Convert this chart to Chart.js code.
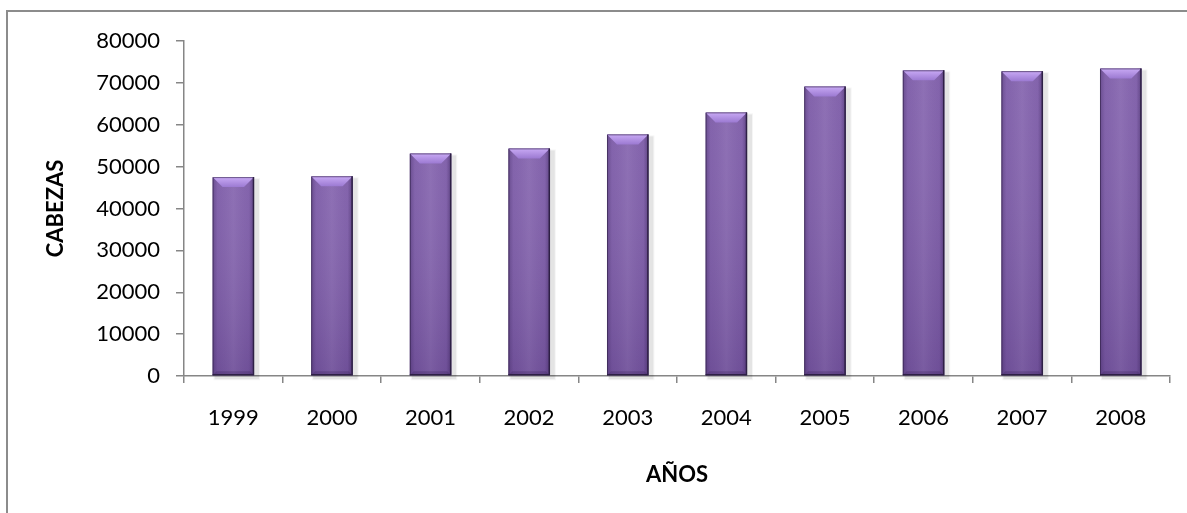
<!DOCTYPE html>
<html>
<head>
<meta charset="utf-8">
<script src="https://cdn.jsdelivr.net/npm/chart.js@4/dist/chart.umd.min.js"></script>
<style>
  html, body { margin: 0; padding: 0; background: #fff; }
  #wrap { width: 1187px; height: 513px; position: relative; }
</style>
</head>
<body>
<div id="wrap"><canvas id="chart"></canvas></div>
<script>
const years = ["1999", "2000", "2001", "2002", "2003", "2004", "2005", "2006", "2007", "2008"];
const heads = [47500, 47700, 53150, 54350, 57700, 62950, 69150, 73000, 72800, 73450];
const yTicks = [0, 10000, 20000, 30000, 40000, 50000, 60000, 70000, 80000];

const FONT = "Lato, 'Open Sans', sans-serif";

// grey frame around the chart (only left and top edges are visible)
const framePlugin = {
  id: "frame",
  beforeDraw(chart) {
    const c = chart.ctx;
    c.save();
    c.strokeStyle = "#8c8c8c";
    c.lineWidth = 2;
    c.strokeRect(7, 11, 1200, 520);
    c.restore();
  }
};

// shadow, side shading and top bevel on each bar
const bevelPlugin = {
  id: "bevel",
  beforeDatasetsDraw(chart) {
    const c = chart.ctx;
    c.save();
    chart.getDatasetMeta(0).data.forEach((bar) => {
      const w = bar.width;
      const left = bar.x - w / 2;
      const h = bar.base - bar.y;
      c.fillStyle = "rgba(0,0,0,0.07)";
      c.fillRect(left + 2, bar.y + 2, w + 3, h + 2);
      c.fillStyle = "rgba(0,0,0,0.04)";
      c.fillRect(left + 1, bar.y + 1, w + 5, h + 4);
    });
    c.restore();
  },
  afterDatasetsDraw(chart) {
    const c = chart.ctx;
    c.save();
    chart.getDatasetMeta(0).data.forEach((bar) => {
      const w = bar.width;
      const left = bar.x - w / 2;
      const right = left + w;
      const top = bar.y;
      const h = bar.base - bar.y;

      // vertical darkening toward the base
      const vg = c.createLinearGradient(0, top, 0, bar.base);
      vg.addColorStop(0, "rgba(255,255,255,0.06)");
      vg.addColorStop(1, "rgba(40,20,70,0.16)");
      c.fillStyle = vg;
      c.fillRect(left, top, w, h);

      // horizontal shading, darker at the sides
      const hg = c.createLinearGradient(left, 0, right, 0);
      hg.addColorStop(0, "rgba(40,20,70,0.30)");
      hg.addColorStop(0.12, "rgba(40,20,70,0.04)");
      hg.addColorStop(0.5, "rgba(255,255,255,0.06)");
      hg.addColorStop(0.88, "rgba(40,20,70,0.04)");
      hg.addColorStop(1, "rgba(40,20,70,0.40)");
      c.fillStyle = hg;
      c.fillRect(left, top, w, h);

      // top bevel
      const b = 10;
      const tg = c.createLinearGradient(0, top, 0, top + b);
      tg.addColorStop(0, "#c9aaf5");
      tg.addColorStop(1, "#9c7ad2");
      c.fillStyle = tg;
      c.beginPath();
      c.moveTo(left, top);
      c.lineTo(right, top);
      c.lineTo(right - b, top + b);
      c.lineTo(left + b, top + b);
      c.closePath();
      c.fill();

      // bottom bevel
      c.fillStyle = "rgba(40,20,70,0.22)";
      c.beginPath();
      c.moveTo(left, bar.base);
      c.lineTo(right, bar.base);
      c.lineTo(right - 4, bar.base - 4);
      c.lineTo(left + 4, bar.base - 4);
      c.closePath();
      c.fill();

      // dark outline on right and bottom
      c.strokeStyle = "#2e2045";
      c.lineWidth = 1.5;
      c.beginPath();
      c.moveTo(right - 0.5, top);
      c.lineTo(right - 0.5, bar.base - 0.5);
      c.lineTo(left, bar.base - 0.5);
      c.stroke();
      c.strokeStyle = "rgba(46,32,69,0.6)";
      c.lineWidth = 1;
      c.beginPath();
      c.moveTo(left + 0.5, bar.base);
      c.lineTo(left + 0.5, top + 0.5);
      c.lineTo(right, top + 0.5);
      c.stroke();
    });
    c.restore();
  }
};

new Chart(document.getElementById("chart"), {
  type: "bar",
  data: {
    labels: years,
    datasets: [
      {
        label: "CABEZAS",
        data: heads,
        backgroundColor: "#7f5dab",
        borderWidth: 0,
        barPercentage: 0.42,
        categoryPercentage: 1
      }
    ]
  },
  options: {
    responsive: true,
    maintainAspectRatio: false,
    animation: false,
    events: [],
    layout: { padding: { top: 41, right: 17, bottom: 0, left: 0 } },
    plugins: {
      legend: { display: false },
      tooltip: { enabled: false }
    },
    scales: {
      x: {
        grid: {
          offset: true,
          drawOnChartArea: false,
          drawTicks: true,
          tickLength: 7,
          color: "#868686",
          lineWidth: 1.5
        },
        border: { color: "#868686", width: 1.5 },
        ticks: {
          color: "#000",
          font: { family: FONT, size: 22 },
          padding: 22
        },
        title: {
          display: true,
          text: "AÑOS",
          color: "#000",
          font: { family: FONT, size: 22, weight: "bold" },
          padding: { top: 0, bottom: 25 }
        },
        afterFit(scale) {
          scale.height = 137;
        }
      },
      y: {
        min: 0,
        max: 80000,
        afterBuildTicks(scale) {
          scale.ticks = yTicks.map((v) => ({ value: v }));
        },
        grid: {
          drawOnChartArea: false,
          drawTicks: true,
          tickLength: 8,
          color: "#868686",
          lineWidth: 1.5
        },
        border: { color: "#868686", width: 1.5 },
        ticks: {
          color: "#000",
          font: { family: FONT, size: 22 },
          padding: 16,
          callback: (v) => String(v)
        },
        title: {
          display: true,
          text: "CABEZAS",
          color: "#000",
          font: { family: FONT, size: 22, weight: "bold" },
          padding: { top: 43, bottom: 0 }
        },
        afterFit(scale) {
          scale.width = 184;
        }
      }
    }
  },
  plugins: [framePlugin, bevelPlugin]
});
</script>
</body>
</html>
